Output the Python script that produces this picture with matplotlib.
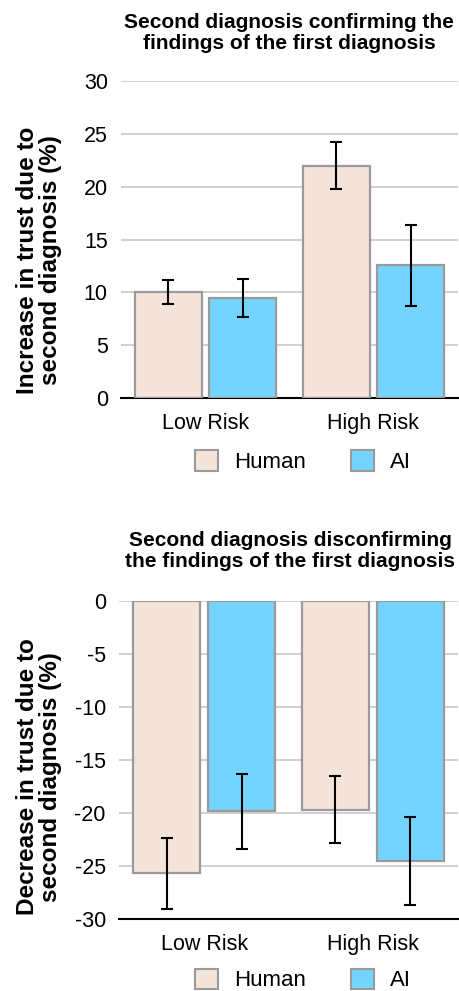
import matplotlib
matplotlib.use("Agg")
import matplotlib.pyplot as plt
from matplotlib.patches import Patch
import numpy as np

plt.rcParams['font.family'] = ['Liberation Sans', 'DejaVu Sans']

groups = ["Low Risk", "High Risk"]
series = ["Human", "AI"]

confirm_human = [10.0, 22.0]
confirm_human_err = [1.15, 2.2]
confirm_ai = [9.45, 12.55]
confirm_ai_err = [1.8, 3.85]

disconfirm_human = [-25.7, -19.7]
disconfirm_human_err = [3.35, 3.15]
disconfirm_ai = [-19.85, -24.55]
disconfirm_ai_err = [3.55, 4.15]

top_ticks = [0, 5, 10, 15, 20, 25, 30]
bottom_ticks = [0, -5, -10, -15, -20, -25, -30]

col_human = "#F5E4DA"
col_ai = "#75D4FD"
edge = "#9a9a9a"
grid_c = "#c8c8c8"

W, H = 459, 991
fig = plt.figure(figsize=(W / 100, H / 100), dpi=100)


def px_axes(left, top, right, bottom):
    return fig.add_axes([left / W, 1 - bottom / H, (right - left) / W, (bottom - top) / H])


def draw(ax, hv, he, av, ae, ticks, ylim):
    x = np.arange(len(groups))
    off = 0.222
    w = 0.40
    ax.bar(x - off, hv, w, color=col_human, edgecolor=edge, linewidth=1.6, zorder=3)
    ax.bar(x + off, av, w, color=col_ai, edgecolor=edge, linewidth=1.6, zorder=3)
    ax.errorbar(x - off, hv, yerr=he, fmt='none', ecolor='black', elinewidth=1.5,
                capsize=4.5, capthick=1.5, zorder=4)
    ax.errorbar(x + off, av, yerr=ae, fmt='none', ecolor='black', elinewidth=1.5,
                capsize=4.5, capthick=1.5, zorder=4)
    ax.set_xlim(-0.505, 1.505)
    ax.set_ylim(*ylim)
    ax.set_yticks(ticks)
    ax.set_yticklabels([str(t) for t in ticks])
    ax.set_xticks(x)
    ax.set_xticklabels(groups)
    ax.tick_params(axis='both', length=0, labelsize=15.5)
    ax.tick_params(axis='y', pad=9.5)
    ax.tick_params(axis='x', pad=11)
    for s in ['top', 'right', 'left']:
        ax.spines[s].set_visible(False)
    ax.spines['bottom'].set_color('black')
    ax.spines['bottom'].set_linewidth(1.5)
    ax.grid(axis='y', color=grid_c, linewidth=1.2, zorder=0)
    ax.set_axisbelow(True)
    handles = [Patch(facecolor=col_human, edgecolor=edge, linewidth=1.5, label=series[0]),
               Patch(facecolor=col_ai, edgecolor=edge, linewidth=1.5, label=series[1])]
    return handles


ax1 = px_axes(121, 81, 458, 398)
h = draw(ax1, confirm_human, confirm_human_err, confirm_ai, confirm_ai_err, top_ticks, (0, 30))
ax2 = px_axes(119, 601, 458, 919)
draw(ax2, disconfirm_human, disconfirm_human_err, disconfirm_ai, disconfirm_ai_err, bottom_ticks, (-30, 0))

# titles
fig.text(289 / W, 1 - 33 / H, "Second diagnosis confirming the\nfindings of the first diagnosis",
         ha='center', va='center', fontsize=15, fontweight='bold', linespacing=1.15)
fig.text(290 / W, 1 - 551 / H, "Second diagnosis disconfirming\nthe findings of the first diagnosis",
         ha='center', va='center', fontsize=15, fontweight='bold', linespacing=1.15)

# y labels
fig.text(39 / W, 1 - 260 / H, "Increase in trust due to\nsecond diagnosis (%)",
         ha='center', va='center', rotation=90, fontsize=17.5, fontweight='bold',
         linespacing=1.02, multialignment='center')
fig.text(39 / W, 1 - 777 / H, "Decrease in trust due to\nsecond diagnosis (%)",
         ha='center', va='center', rotation=90, fontsize=17.5, fontweight='bold',
         linespacing=1.02, multialignment='center')

# legends
for cy in (461.5, 980):
    fig.legend(handles=h, loc='center', bbox_to_anchor=(303 / W, 1 - cy / H), ncol=2,
               frameon=False, fontsize=16, handlelength=1.05, handleheight=1.05,
               handletextpad=0.72, columnspacing=2.0, borderpad=0.1)

fig.savefig("out.png", dpi=100)
